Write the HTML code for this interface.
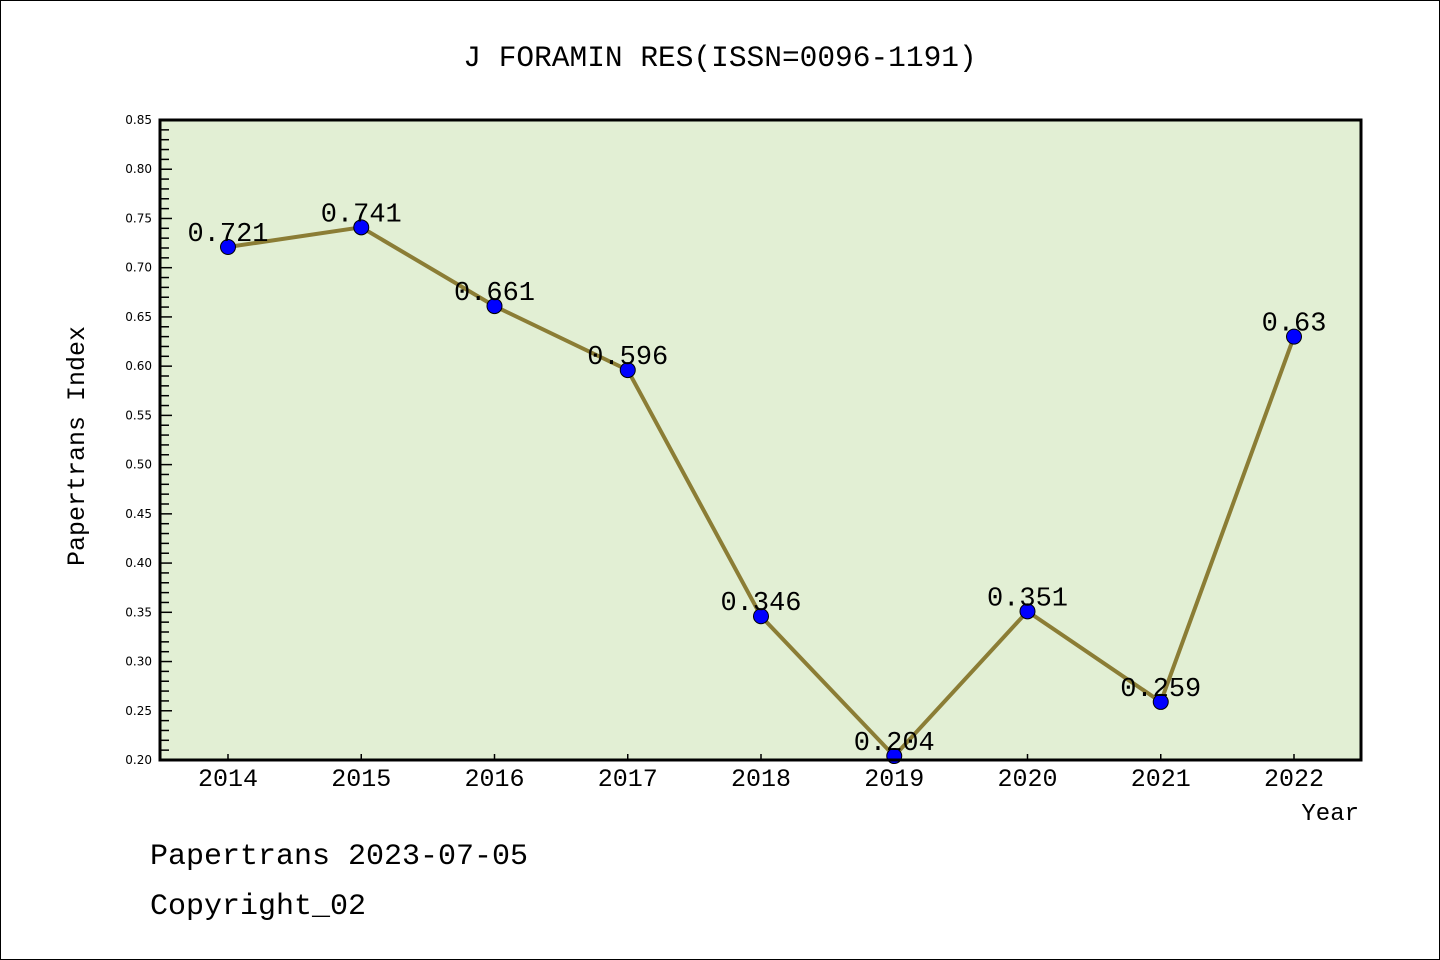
<!DOCTYPE html>
<html><head><meta charset="utf-8"><style>
html,body{margin:0;padding:0;background:#fff}
svg{display:block}
text{font-family:"Liberation Mono","Noto Sans CJK SC",monospace}
text.sans{font-family:"DejaVu Sans","Liberation Sans",sans-serif}
</style></head><body>
<svg id="chart" width="1440" height="960">
<rect x="0.5" y="0.5" width="1439" height="959" fill="#fff" stroke="#000" stroke-width="1"/>
<text x="720" y="66" text-anchor="middle" font-size="29.5" fill="#000">J FORAMIN RES(ISSN=0096-1191)</text>
<rect x="160" y="120" width="1201" height="640" fill="#e2efd4"/>
<g id="yticks"></g><g id="xticks"></g><g id="series"></g>
<rect x="160" y="120" width="1201" height="640" fill="none" stroke="#000" stroke-width="3"/>
<text x="84" y="446" font-size="25" text-anchor="middle" transform="rotate(-90 84 446)">Papertrans Index</text>
<text x="1359" y="820" font-size="24" text-anchor="end">Year</text>
<text x="150" y="864" font-size="30">Papertrans 2023-07-05</text>
<text x="150" y="914" font-size="30">Copyright_02</text>
</svg>
<script>
const years=["2014","2015","2016","2017","2018","2019","2020","2021","2022"];
const values=[0.721,0.741,0.661,0.596,0.346,0.204,0.351,0.259,0.63];
const valueLabels=["0.721","0.741","0.661","0.596","0.346","0.204","0.351","0.259","0.63"];
const yTickLabels=["0.20","0.25","0.30","0.35","0.40","0.45","0.50","0.55","0.60","0.65","0.70","0.75","0.80","0.85"];
const NS="http://www.w3.org/2000/svg";
const yMin=0.20,yMax=0.85,plotTop=120,plotBot=760,x0=228,dx=133.25;
const ys=v=>plotBot-(v-yMin)/(yMax-yMin)*(plotBot-plotTop);
const xs=i=>x0+i*dx;
function mk(tag,attrs,parent){const e=document.createElementNS(NS,tag);for(const k in attrs)e.setAttribute(k,attrs[k]);parent.appendChild(e);return e;}
const yt=document.getElementById('yticks');
for(let k=0;k<=65;k++){
  const v=yMin+k*0.01,y=ys(v),major=k%5===0;
  const t=mk('line',{x1:160,x2:major?172:169,y1:y,y2:y,stroke:'#000','stroke-width':1.5},yt);
  
  
}
yTickLabels.forEach(l=>{
  const t=mk('text',{x:152,y:ys(parseFloat(l))+4,'font-size':12,'text-anchor':'end',fill:'#000',class:'sans'},yt);
  t.textContent=l;
  
  
});
const xt=document.getElementById('xticks');
years.forEach((yr,i)=>{
  const l=mk('line',{x1:xs(i),x2:xs(i),y1:plotBot,y2:plotBot-6,stroke:'#000','stroke-width':1.5},xt);
  
  
  const t=mk('text',{x:xs(i),y:786,'font-size':25,'text-anchor':'middle',fill:'#000'},xt);
  t.textContent=yr;
  
  
});
const sg=document.getElementById('series');
const line=mk('polyline',{points:values.map((v,i)=>xs(i)+','+ys(v)).join(' '),fill:'none',stroke:'#8b7d35','stroke-width':4},sg);


values.forEach((v,i)=>{
  const c=mk('circle',{cx:xs(i),cy:ys(v),r:7.5,fill:'#0000ff',stroke:'#000','stroke-width':1},sg);
  
  
  const t=mk('text',{x:xs(i),y:ys(v)-6,'font-size':27,'text-anchor':'middle',fill:'#000'},sg);
  t.textContent=valueLabels[i];
  
  
});
</script>
</body></html>
